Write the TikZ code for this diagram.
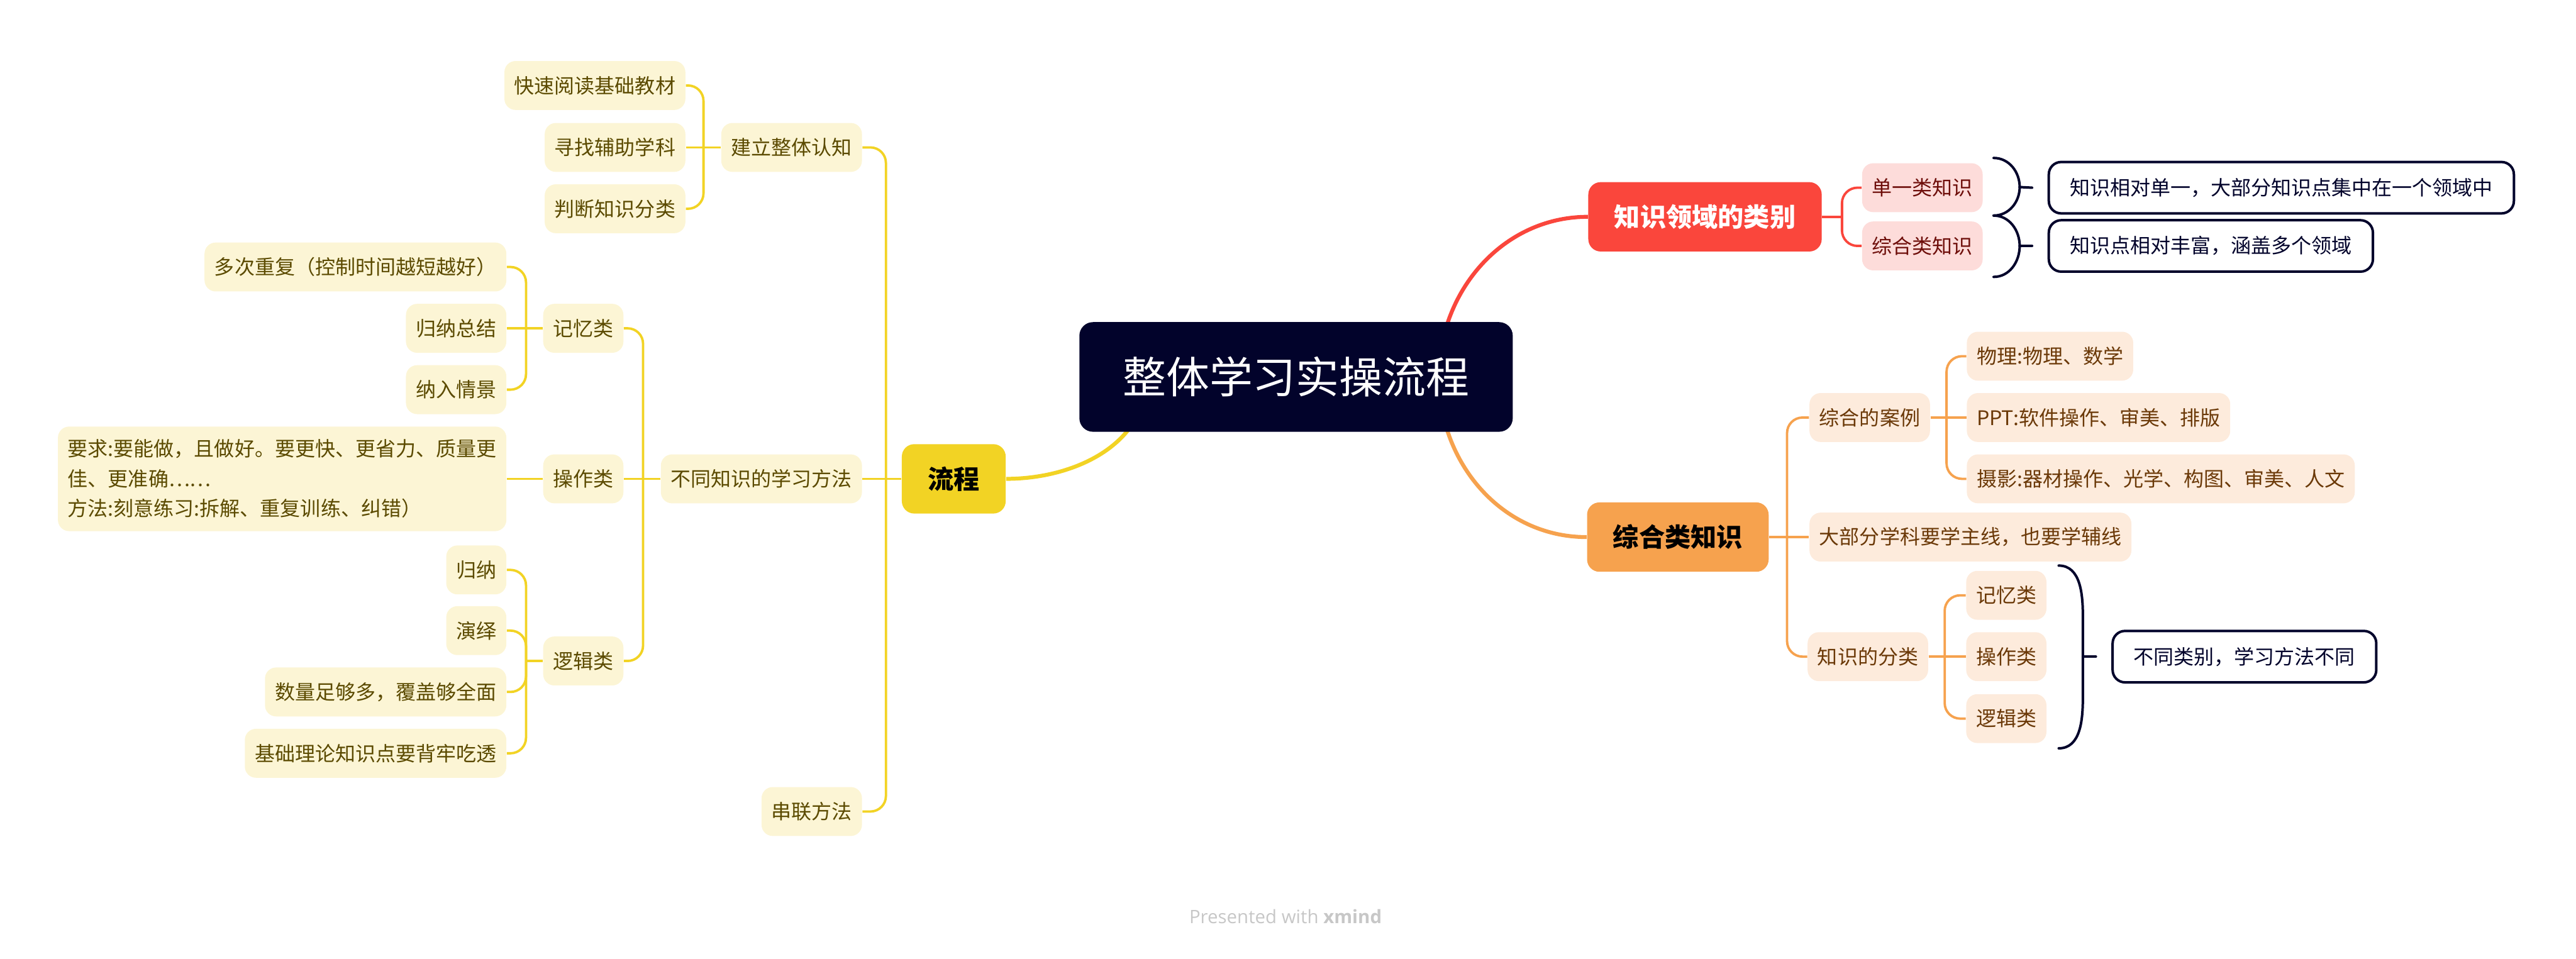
\documentclass[tikz,border=0pt]{standalone}
\usepackage{fontspec}
\setmainfont{Noto Sans CJK SC}
\newfontfamily\markfont{Open Sans}
\usepackage{tikz}
\definecolor{mapNavy}{HTML}{02032B}
\definecolor{mapYellow}{HTML}{F2D324}
\definecolor{mapYellowLight}{HTML}{FCF5D5}
\definecolor{mapYellowText}{HTML}{5B4A00}
\definecolor{mapRed}{HTML}{FA463C}
\definecolor{mapRedLight}{HTML}{FDDCDA}
\definecolor{mapRedText}{HTML}{6E0E0A}
\definecolor{mapOrange}{HTML}{F6A24E}
\definecolor{mapOrangeLight}{HTML}{FDEBDC}
\definecolor{mapOrangeText}{HTML}{6B3908}
\pgfdeclarelayer{lines}
\pgfsetlayers{lines,main}

\begin{document}
\begin{tikzpicture}[
    rootbox/.style={fill=mapNavy, text=white, rounded corners=0.22cm, inner xsep=0.7cm, minimum height=1.77cm, font=\fontsize{19.9}{24}\selectfont},
    topicbox/.style={rounded corners=0.2cm, inner xsep=0.42cm, minimum height=1.12cm, font=\fontsize{11.9}{14}\selectfont\bfseries},
    leafbox/.style={rounded corners=0.18cm, inner xsep=0.16cm, inner ysep=0.21cm, minimum height=0.79cm, font=\fontsize{9.25}{13.7}\selectfont},
    yleaf/.style={leafbox, fill=mapYellowLight, text=mapYellowText, anchor=east},
    rleaf/.style={leafbox, fill=mapRedLight, text=mapRedText, anchor=west},
    oleaf/.style={leafbox, fill=mapOrangeLight, text=mapOrangeText, anchor=west},
    notebox/.style={draw=mapNavy, line width=1.15pt, fill=white, text=mapNavy, rounded corners=0.2cm, inner xsep=0.34cm, minimum height=0.83cm, anchor=west, font=\fontsize{9.25}{13.7}\selectfont},
    branch/.style={line width=1.8pt},
    twig/.style={line width=1.1pt, rounded corners=0.25cm},
    brace/.style={draw=mapNavy, line width=1.15pt, line cap=round}
]
\useasboundingbox (0,0) rectangle (41.58,-15.48);

% root and main topics
\node[rootbox] (root) at (20.92,-6.085) {整体学习实操流程};
\node[topicbox, fill=mapYellow, text=black] (flow) at (15.395,-7.73) {流程};
\node[topicbox, fill=mapRed, text=white, anchor=west] (kind) at (25.63,-3.50) {知识领域的类别};
\node[topicbox, fill=mapOrange, text=black, anchor=west] (mixed) at (25.61,-8.67) {综合类知识};

% left side
\node[yleaf] (whole) at (13.92,-2.38) {建立整体认知};
\node[yleaf] (method) at (13.92,-7.73) {不同知识的学习方法};
\node[yleaf] (link) at (13.92,-13.10) {串联方法};

\node[yleaf] (read) at (11.07,-1.38) {快速阅读基础教材};
\node[yleaf] (aux) at (11.07,-2.38) {寻找辅助学科};
\node[yleaf] (judge) at (11.07,-3.37) {判断知识分类};
\node[yleaf] (mem) at (10.07,-5.30) {记忆类};
\node[yleaf] (op) at (10.07,-7.73) {操作类};
\node[yleaf] (logic) at (10.07,-10.67) {逻辑类};

\node[yleaf] (repeat) at (8.18,-4.31) {多次重复（控制时间越短越好）};
\node[yleaf] (sum) at (8.18,-5.30) {归纳总结};
\node[yleaf] (scene) at (8.18,-6.29) {纳入情景};
\node[yleaf, align=left] (req) at (8.18,-7.73) {要求:要能做，且做好。要更快、更省力、质量更\\佳、更准确……\\方法:刻意练习:拆解、重复训练、纠错）};
\node[yleaf] (induct) at (8.18,-9.20) {归纳};
\node[yleaf] (deduct) at (8.18,-10.18) {演绎};
\node[yleaf] (enough) at (8.18,-11.17) {数量足够多，覆盖够全面};
\node[yleaf] (basis) at (8.18,-12.16) {基础理论知识点要背牢吃透};

% right side
\node[rleaf] (single) at (30.05,-3.03) {单一类知识};
\node[rleaf] (multi) at (30.05,-3.97) {综合类知识};
\node[notebox] (singleNote) at (33.05,-3.03) {知识相对单一，大部分知识点集中在一个领域中};
\node[notebox] (multiNote) at (33.05,-3.97) {知识点相对丰富，涵盖多个领域};

\node[oleaf] (case) at (29.20,-6.74) {综合的案例};
\node[oleaf] (line) at (29.20,-8.67) {大部分学科要学主线，也要学辅线};
\node[oleaf] (sort) at (29.17,-10.60) {知识的分类};
\node[oleaf] (phys) at (31.74,-5.75) {物理:物理、数学};
\node[oleaf] (ppt) at (31.74,-6.74) {PPT:软件操作、审美、排版};
\node[oleaf] (photo) at (31.74,-7.73) {摄影:器材操作、光学、构图、审美、人文};
\node[oleaf] (memR) at (31.73,-9.61) {记忆类};
\node[oleaf] (opR) at (31.73,-10.60) {操作类};
\node[oleaf] (logicR) at (31.73,-11.60) {逻辑类};
\node[notebox] (sortNote) at (34.08,-10.60) {不同类别，学习方法不同};

\node[text=black!22, font=\markfont\fontsize{8.5}{10}\selectfont] (mark) at (20.75,-14.80) {Presented with \textbf{xmind}};

% junctions
\coordinate (rootL) at ([xshift=1.09cm]root.west);
\coordinate (rootR) at ([xshift=-1.2cm]root.east);
\coordinate (flowJ) at ([xshift=-0.25cm]flow.west);
\coordinate (wholeJ) at ([xshift=-0.28cm]whole.west);
\coordinate (methodJ) at ([xshift=-0.28cm]method.west);
\coordinate (memJ) at ([xshift=-0.27cm]mem.west);
\coordinate (logicJ) at ([xshift=-0.27cm]logic.west);
\coordinate (kindJ) at ([xshift=0.32cm]kind.east);
\coordinate (mixedJ) at ([xshift=0.29cm]mixed.east);
\coordinate (caseJ) at ([xshift=0.26cm]case.east);
\coordinate (sortJ) at ([xshift=0.26cm]sort.east);

\begin{pgfonlayer}{lines}
    \draw[branch, mapYellow] (rootL) to[out=-90, in=0] (flow.east);
    \draw[branch, mapRed] (rootR) to[out=90, in=180] (kind.west);
    \draw[branch, mapOrange] (rootR) to[out=-90, in=180] (mixed.west);

    \draw[twig, mapYellow] (flow.west) -- (method.east);
    \foreach \n in {whole,link} \draw[twig, mapYellow] (flowJ) |- (\n.east);
    \draw[twig, mapYellow] (whole.west) -- (aux.east);
    \foreach \n in {read,judge} \draw[twig, mapYellow] (wholeJ) |- (\n.east);
    \draw[twig, mapYellow] (method.west) -- (op.east);
    \foreach \n in {mem,logic} \draw[twig, mapYellow] (methodJ) |- (\n.east);
    \draw[twig, mapYellow] (mem.west) -- (sum.east);
    \foreach \n in {repeat,scene} \draw[twig, mapYellow] (memJ) |- (\n.east);
    \draw[twig, mapYellow] (op.west) -- (req.east);
    \draw[twig, mapYellow] (logic.west) -- (logicJ);
    \foreach \n in {induct,deduct,enough,basis} \draw[twig, mapYellow] (logicJ) |- (\n.east);

    \draw[twig, mapRed] (kind.east) -- (kindJ);
    \foreach \n in {single,multi} \draw[twig, mapRed] (kindJ) |- (\n.west);
    \draw[twig, mapOrange] (mixed.east) -- (line.west);
    \foreach \n in {case,sort} \draw[twig, mapOrange] (mixedJ) |- (\n.west);
    \draw[twig, mapOrange] (case.east) -- (ppt.west);
    \foreach \n in {phys,photo} \draw[twig, mapOrange] (caseJ) |- (\n.west);
    \draw[twig, mapOrange] (sort.east) -- (opR.west);
    \foreach \n in {memR,logicR} \draw[twig, mapOrange] (sortJ) |- (\n.west);
\end{pgfonlayer}

% summary braces
\coordinate (singleTip) at ([xshift=-0.25cm]singleNote.west);
\coordinate (multiTip) at ([xshift=-0.25cm]multiNote.west);
\coordinate (sortTip) at ([xshift=-0.25cm]sortNote.west);
\draw[brace] (32.18,-2.55) to[out=0, in=90] (32.60,-3.02) to[out=-90, in=0] (32.18,-3.48);
\draw[brace] (32.60,-3.02) -- (singleTip);
\draw[brace] (32.18,-3.48) to[out=0, in=90] (32.60,-3.97) to[out=-90, in=0] (32.18,-4.47);
\draw[brace] (32.60,-3.97) -- (multiTip);
\draw[brace] (33.23,-9.13) to[out=0, in=90] (33.62,-9.95) -- (33.62,-11.25) to[out=-90, in=0] (33.23,-12.08);
\draw[brace] (33.62,-10.60) -- (sortTip);
\end{tikzpicture}
\end{document}
